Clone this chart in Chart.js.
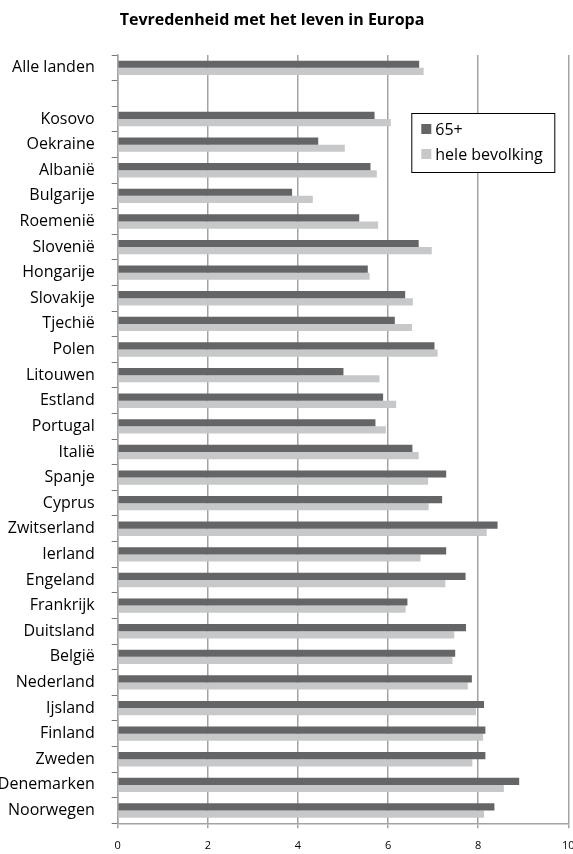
<!DOCTYPE html>
<html>
<head>
<meta charset="utf-8">
<script src="https://cdn.jsdelivr.net/npm/chart.js@4/dist/chart.umd.min.js"></script>
<style>
html,body{margin:0;padding:0;background:#fff;}
#wrap{width:573px;height:854px;position:relative;}
</style>
</head>
<body>
<div id="wrap"><canvas id="c" width="573" height="854"></canvas></div>
<script>
const chartTitle = 'Tevredenheid met het leven in Europa';
const categories = ['Alle landen','','Kosovo','Oekraine','Albanië','Bulgarije','Roemenië','Slovenië','Hongarije','Slovakije','Tjechië','Polen','Litouwen','Estland','Portugal','Italië','Spanje','Cyprus','Zwitserland','Ierland','Engeland','Frankrijk','Duitsland','België','Nederland','Ijsland','Finland','Zweden','Denemarken','Noorwegen'];
const series65 = [6.69,null,5.70,4.45,5.61,3.87,5.36,6.68,5.55,6.38,6.15,7.03,5.01,5.89,5.72,6.54,7.29,7.20,8.43,7.29,7.72,6.43,7.73,7.49,7.86,8.13,8.16,8.16,8.91,8.36];
const seriesAll = [6.79,null,6.06,5.04,5.75,4.33,5.78,6.97,5.59,6.55,6.53,7.10,5.81,6.18,5.95,6.68,6.89,6.90,8.19,6.72,7.27,6.39,7.47,7.43,7.77,7.95,8.11,7.87,8.57,8.13];
const seriesLabels = ['65+','hele bevolking'];
const xTicks = [0,2,4,6,8,10];

const darkCol = '#646567';
const lightCol = '#c7c8c9';
const gridCol = '#a3a3a3';

const overlay = {
  id:'overlay',
  afterDraw(chart){
    const ctx = chart.ctx, ca = chart.chartArea;
    ctx.save();
    // title
    ctx.fillStyle = '#000';
    ctx.font = 'bold 16px "Open Sans"';
    ctx.textAlign = 'center';
    ctx.textBaseline = 'middle';
    ctx.fillText(chartTitle, 272, 20);
    // legend
    const bx = ca.right - 157, by = ca.top + 58, bw = 143, bh = 59;
    ctx.fillStyle = '#fff';
    ctx.fillRect(bx, by, bw, bh);
    ctx.strokeStyle = '#000';
    ctx.lineWidth = 1;
    ctx.strokeRect(bx + 0.5, by + 0.5, bw, bh);
    ctx.font = '16px "Open Sans"';
    ctx.textAlign = 'left';
    chart.data.datasets.forEach((ds, i) => {
      const cy = by + 16 + i * 25;
      ctx.fillStyle = ds.backgroundColor;
      ctx.fillRect(bx + 10, cy - 5, 10, 10);
      ctx.fillStyle = '#000';
      ctx.fillText(ds.label, bx + 24, cy + 1);
    });
    ctx.restore();
  }
};

function noPad(s){ s.paddingLeft = 0; s.paddingRight = 0; s.paddingTop = 0; s.paddingBottom = 0; }

new Chart(document.getElementById('c'), {
  type:'bar',
  data:{
    labels: categories,
    datasets:[
      {label: seriesLabels[0], data: series65, backgroundColor: darkCol, categoryPercentage:0.56, barPercentage:1.0},
      {label: seriesLabels[1], data: seriesAll, backgroundColor: lightCol, categoryPercentage:0.56, barPercentage:1.0}
    ]
  },
  options:{
    indexAxis:'y',
    responsive:false,
    animation:false,
    layout:{padding:{top:55,right:4.7,left:0,bottom:0}},
    plugins:{legend:{display:false},title:{display:false},tooltip:{enabled:false}},
    scales:{
      x:{
        min:0,max:10,
        afterBuildTicks(s){ s.ticks = xTicks.map(v=>({value:v})); },
        afterFit(s){ s.height = 30.7; noPad(s); },
        grid:{color:gridCol,lineWidth:1.5,tickLength:5,drawOnChartArea:true},
        border:{color:gridCol,width:1.5},
        ticks:{color:'#000',font:{family:'"Open Sans"',size:11},padding:11,maxRotation:0}
      },
      y:{
        afterFit(s){ s.width = 117.7; noPad(s); },
        grid:{drawOnChartArea:false,offset:true,tickLength:6,color:'#777',lineWidth:1},
        border:{color:gridCol,width:1.5},
        ticks:{color:'#000',font:{family:'"Open Sans"',size:16},padding:17,autoSkip:false}
      }
    }
  },
  plugins:[overlay]
});
</script>
</body>
</html>
